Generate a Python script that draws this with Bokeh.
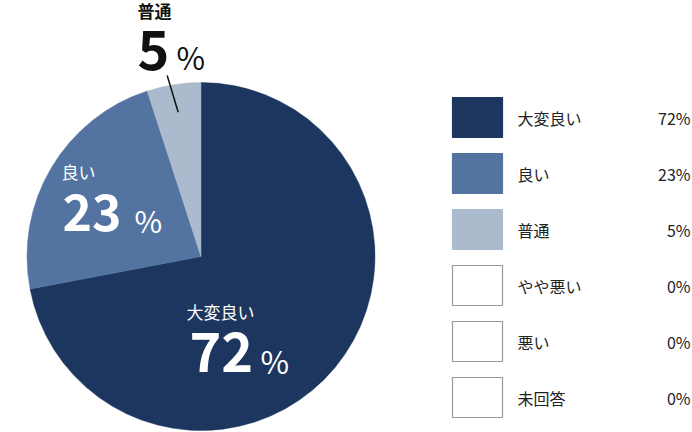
import math
from bokeh.plotting import figure
from bokeh.models import Range1d
from bokeh.core.properties import value
from bokeh.embed import file_html
from bokeh.resources import INLINE

# ---- data ----
categories = ["大変良い", "良い", "普通", "やや悪い", "悪い", "未回答"]
values = [72, 23, 5, 0, 0, 0]
colors = ["#1d365f", "#5374a1", "#abbbcd", "#ffffff", "#ffffff", "#ffffff"]

FONT = "Noto Sans CJK JP"
W, H = 692, 432

def Y(py):
    # convert reference pixel row into data y (y axis points up)
    return 432 - py

p = figure(width=W, height=H, output_backend="svg", toolbar_location=None,
           x_range=Range1d(0, W), y_range=Range1d(Y(H), Y(0)),
           min_border=0, outline_line_color=None)
p.axis.visible = False
p.grid.visible = False
p.background_fill_color = "white"
p.border_fill_color = "white"

# ---- pie ----
cx, cy, r = 200.5, Y(256), 174
total = sum(values)
cum = 0
for cat, v, c in zip(categories, values, colors):
    if v <= 0:
        continue
    start = math.pi / 2 - 2 * math.pi * cum / total
    cum += v
    end = math.pi / 2 - 2 * math.pi * cum / total
    p.wedge(x=cx, y=cy, radius=r, radius_units="screen",
            start_angle=start, end_angle=end, direction="clock",
            fill_color=c, line_color=c, line_width=0.5)

# ---- pie labels (layout per slice) ----
label_layout = {
    "大変良い": dict(cat=(186, 311), num=(189, 351.5), pct=(260, 359.7), col="white",
                  cs=17, ns=54, ps=31, cw="normal"),
    "良い": dict(cat=(61, 171), num=(62, 212), pct=(134, 219), col="white",
               cs=17, ns=50, ps=30, cw="normal"),
    "普通": dict(cat=(137, 9.5), num=(137, 49), pct=(176, 56.3), col="#111111",
               cs=17, ns=54, ps=31, cw="bold"),
}
for cat, v in zip(categories, values):
    if cat not in label_layout:
        continue
    L = label_layout[cat]
    p.text(x=[L["cat"][0]], y=[Y(L["cat"][1])], text=[cat],
           text_font=value(FONT), text_font_size=f'{L["cs"]}px',
           text_font_style=L["cw"], text_color=L["col"],
           text_align="left", text_baseline="middle")
    p.text(x=[L["num"][0]], y=[Y(L["num"][1])], text=[str(v)],
           text_font=value(FONT), text_font_size=f'{L["ns"]}px',
           text_font_style="bold", text_color=L["col"],
           text_align="left", text_baseline="middle")
    p.text(x=[L["pct"][0]], y=[Y(L["pct"][1])], text=["%"],
           text_font=value(FONT), text_font_size=f'{L["ps"]}px',
           text_color=L["col"],
           text_align="left", text_baseline="middle")

# leader line for the small slice
p.line(x=[166.7, 177.7], y=[Y(75), Y(111.7)], line_color="#111111", line_width=1.5)

# ---- legend ----
top0, step, bw, bh = 97, 56, 50, 40
for i, (cat, v, c) in enumerate(zip(categories, values, colors)):
    yc = Y(top0 + bh / 2 + step * i)
    p.rect(x=[477], y=[yc], width=bw, height=bh, fill_color=c,
           line_color=(c if v > 0 else "#9a9a9a"), line_width=1.2)
    p.text(x=[517], y=[yc], text=[cat], text_font=value(FONT),
           text_font_size="16px", text_color="#222222",
           text_align="left", text_baseline="middle")
    p.text(x=[690], y=[yc], text=[f"{v}%"], text_font=value(FONT),
           text_font_size="16px", text_color="#222222",
           text_align="right", text_baseline="middle")

open("out.html", "w").write(file_html(p, INLINE))
